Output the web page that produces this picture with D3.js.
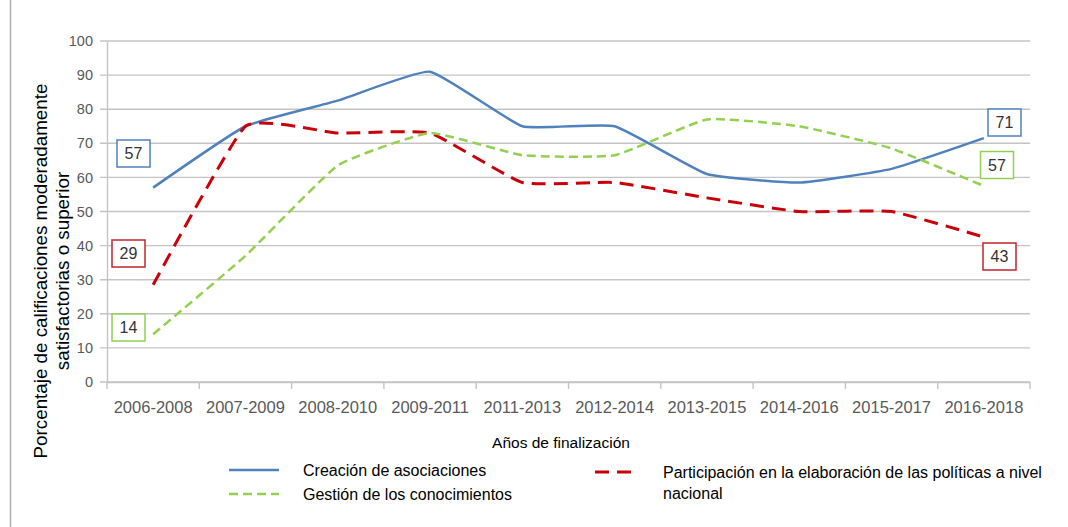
<!DOCTYPE html>
<meta charset="utf-8">
<style>
body,html{ margin:0; padding:0; background:#fff; }
svg{ display:block; font-family:"Liberation Sans", Arial, sans-serif; }
.grid line{ stroke:#c4c4c4; stroke-width:1.4; }
.tick text{ fill:#595959; }
</style>
<svg width="1068" height="527"></svg>
<script src="https://d3js.org/d3.v7.min.js"></script>
<script>
var periods = ["2006-2008","2007-2009","2008-2010","2009-2011","2011-2013","2012-2014","2013-2015","2014-2016","2015-2017","2016-2018"];
var asociaciones = [57, 75, 82.5, 91, 75, 75, 61, 58.5, 62.5, 71.5];
var conocimientos = [14, 37, 63.5, 73, 66.5, 66.5, 77, 75, 68.5, 57.5];
var politicas = [28.5, 75, 73, 73, 58.5, 58.5, 54, 50, 50, 42.5];
var yTicks = [0,10,20,30,40,50,60,70,80,90,100];

var svg = d3.select("svg");
var mLeft = 107, mRight = 1030, mTop = 41, mBottom = 382;

var x = d3.scaleBand().domain(periods).range([mLeft, mRight]);
var y = d3.scaleLinear().domain([0, 100]).range([mBottom, mTop]);
var cx = function(d, i){ return x(periods[i]) + x.bandwidth() / 2; };

// frame line on the left
svg.append("line").attr("x1", 10.5).attr("x2", 10.5).attr("y1", 0).attr("y2", 527)
  .attr("stroke", "#b0b0b0").attr("stroke-width", 1.5);

// gridlines
svg.append("g").attr("class", "grid")
  .selectAll("line").data(yTicks).enter().append("line")
  .attr("x1", mLeft - 7).attr("x2", mRight)
  .attr("y1", function(d){ return y(d); }).attr("y2", function(d){ return y(d); });

// y axis
var yAxis = svg.append("g").attr("transform", "translate(" + mLeft + ",0)")
  .call(d3.axisLeft(y).tickValues(yTicks).tickSize(0).tickPadding(14));
yAxis.select(".domain").attr("stroke", "#c4c4c4").attr("stroke-width", 1.4);
yAxis.selectAll("text").attr("font-size", 14.5).attr("font-family", "Liberation Sans, Arial");

// x axis
var xAxis = svg.append("g").attr("transform", "translate(0," + mBottom + ")")
  .call(d3.axisBottom(x).tickSize(0).tickPadding(19));
xAxis.select(".domain").attr("stroke", "#c4c4c4").attr("stroke-width", 1.4);
xAxis.selectAll("text").attr("font-size", 16.5).attr("fill", "#222")
  .attr("font-family", "Liberation Sans, Arial");
var bounds = periods.map(function(p){ return x(p); }).concat([mRight]);
svg.append("g").selectAll("line").data(bounds).enter().append("line")
  .attr("x1", function(d){ return d; }).attr("x2", function(d){ return d; })
  .attr("y1", mBottom).attr("y2", mBottom + 7)
  .attr("stroke", "#c4c4c4").attr("stroke-width", 1.4);

// lines
var line = d3.line().x(cx).y(function(d){ return y(d); }).curve(d3.curveCardinal.tension(0.6));
var series = [
  {vals: asociaciones, color: "#4f81bd", width: 2.5, dash: null},
  {vals: politicas, color: "#c8000a", width: 3, dash: "14,8"},
  {vals: conocimientos, color: "#92d050", width: 2.5, dash: "9,5"}
];
svg.append("g").selectAll("path").data(series).enter().append("path")
  .attr("d", function(s){ return line(s.vals); })
  .attr("fill", "none")
  .attr("stroke", function(s){ return s.color; })
  .attr("stroke-width", function(s){ return s.width; })
  .attr("stroke-dasharray", function(s){ return s.dash; });

// data label boxes
var labels = [
  {text: "57", color: "#4f81bd", x: 133.5, y: 153.5},
  {text: "29", color: "#c0262d", x: 128.5, y: 253.5},
  {text: "14", color: "#92d050", x: 128.5, y: 327.5},
  {text: "71", color: "#4f81bd", x: 1004.5, y: 122.5},
  {text: "57", color: "#92d050", x: 997, y: 165},
  {text: "43", color: "#c0262d", x: 999.5, y: 256.5}
];
var lb = svg.append("g").selectAll("g").data(labels).enter().append("g")
  .attr("transform", function(d){ return "translate(" + d.x + "," + d.y + ")"; });
lb.append("rect").attr("x", -16.5).attr("y", -13.5).attr("width", 33).attr("height", 27)
  .attr("fill", "#fff").attr("stroke", function(d){ return d.color; }).attr("stroke-width", 1.5);
lb.append("text").attr("text-anchor", "middle").attr("dy", "0.36em")
  .attr("font-size", 16).attr("fill", "#333").text(function(d){ return d.text; });

// axis titles
var yt = svg.append("text").attr("transform", "translate(47,271) rotate(-90)")
  .attr("text-anchor", "middle").attr("font-size", 18.8).attr("fill", "#000");
yt.append("tspan").attr("x", 0).attr("dy", 0).text("Porcentaje de calificaciones moderadamente");
yt.append("tspan").attr("x", 0).attr("dy", 21.5).text("satisfactorias o superior");

svg.append("text").attr("x", 561).attr("y", 448).attr("text-anchor", "middle")
  .attr("font-size", 15.5).attr("fill", "#000").text("Años de finalización");

// legend
var legend = [
  {name: "Creación de asociaciones", s: series[0], x: 229, y: 470},
  {name: "Gestión de los conocimientos", s: series[2], x: 229, y: 494},
  {name: "Participación en la elaboración de las políticas a nivel", s: series[1], x: 595, y: 472}
];
var lg = svg.append("g").selectAll("g").data(legend).enter().append("g")
  .attr("transform", function(d){ return "translate(" + d.x + "," + d.y + ")"; });
lg.append("line").attr("x1", 0).attr("x2", function(d){ return d.x > 500 ? 40 : 50; })
  .attr("stroke", function(d){ return d.s.color; })
  .attr("stroke-width", function(d){ return d.s.width; })
  .attr("stroke-dasharray", function(d){ return d.s.dash; });
lg.append("text").attr("x", function(d){ return d.x > 500 ? 68 : 74; }).attr("dy", "0.35em")
  .attr("font-size", 16).attr("fill", "#000").text(function(d){ return d.name; });
svg.append("text").attr("x", 663).attr("y", 499).attr("font-size", 16).attr("fill", "#000").text("nacional");
</script>
